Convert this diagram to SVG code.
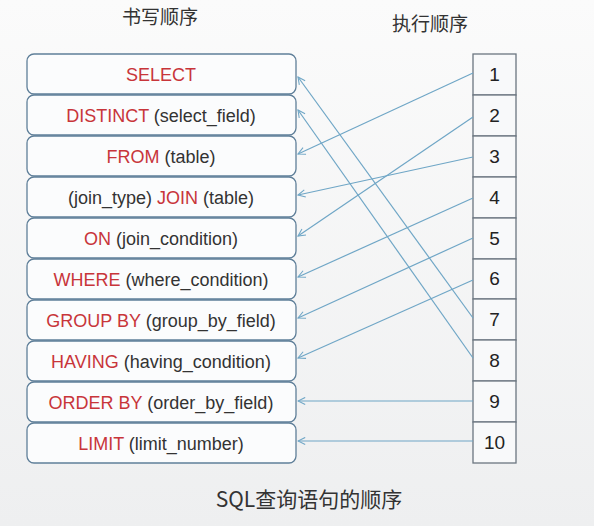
<svg xmlns="http://www.w3.org/2000/svg" width="594" height="526" viewBox="0 0 594 526">
<defs>
<linearGradient id="bg" x1="0" y1="0" x2="0" y2="1">
<stop offset="0" stop-color="#fbfbfb"/>
<stop offset="1" stop-color="#eeeff0"/>
</linearGradient>
<marker id="ah" viewBox="0 0 10 10" refX="9" refY="5" markerWidth="9" markerHeight="9" markerUnits="userSpaceOnUse" orient="auto">
<path d="M1,1 L9,5 L1,9" fill="none" stroke="#6fa6c6" stroke-width="1.2"/>
</marker>
</defs>
<style>
.box{fill:#fbfcfd;stroke:#5f7f99;stroke-width:1.3}
.cell{fill:#f8f9fa;stroke:#6b7680;stroke-width:1.3}
.t{font-family:"Liberation Sans",Arial,sans-serif;font-size:18px;fill:#333;text-anchor:middle}
.k{fill:#c8353a}
.n{font-family:"Liberation Sans",Arial,sans-serif;font-size:19px;fill:#222;text-anchor:middle}
.h{font-family:"Noto Sans CJK SC","Liberation Sans",sans-serif;font-size:19px;fill:#333;text-anchor:middle}
.cap{font-size:21px}
.c{fill:none;stroke:#6fa6c6;stroke-width:1.2;marker-end:url(#ah)}
</style>
<rect width="594" height="526" fill="url(#bg)"/>
<text class="h" x="160" y="24">书写顺序</text>
<text class="h" x="430" y="31">执行顺序</text>
<g id="w1"><rect class="box" x="27" y="54" width="269" height="40" rx="7"/><text class="t" x="161" y="80.5"><tspan class="k">SELECT</tspan></text></g>
<g id="w2"><rect class="box" x="27" y="95" width="269" height="40" rx="7"/><text class="t" x="161" y="121.5"><tspan class="k">DISTINCT</tspan> (select_field)</text></g>
<g id="w3"><rect class="box" x="27" y="136" width="269" height="40" rx="7"/><text class="t" x="161" y="162.5"><tspan class="k">FROM</tspan> (table)</text></g>
<g id="w4"><rect class="box" x="27" y="177" width="269" height="40" rx="7"/><text class="t" x="161" y="203.5">(join_type) <tspan class="k">JOIN</tspan> (table)</text></g>
<g id="w5"><rect class="box" x="27" y="218" width="269" height="40" rx="7"/><text class="t" x="161" y="244.5"><tspan class="k">ON</tspan> (join_condition)</text></g>
<g id="w6"><rect class="box" x="27" y="259" width="269" height="40" rx="7"/><text class="t" x="161" y="285.5"><tspan class="k">WHERE</tspan> (where_condition)</text></g>
<g id="w7"><rect class="box" x="27" y="300" width="269" height="40" rx="7"/><text class="t" x="161" y="326.5"><tspan class="k">GROUP BY</tspan> (group_by_field)</text></g>
<g id="w8"><rect class="box" x="27" y="341" width="269" height="40" rx="7"/><text class="t" x="161" y="367.5"><tspan class="k">HAVING</tspan> (having_condition)</text></g>
<g id="w9"><rect class="box" x="27" y="382" width="269" height="40" rx="7"/><text class="t" x="161" y="408.5"><tspan class="k">ORDER BY</tspan> (order_by_field)</text></g>
<g id="w10"><rect class="box" x="27" y="423" width="269" height="40" rx="7"/><text class="t" x="161" y="449.5"><tspan class="k">LIMIT</tspan> (limit_number)</text></g>
<g id="e1"><rect class="cell" x="473" y="54" width="43" height="41"/><text class="n" x="494.5" y="81">1</text></g>
<g id="e2"><rect class="cell" x="473" y="95" width="43" height="41"/><text class="n" x="494.5" y="122">2</text></g>
<g id="e3"><rect class="cell" x="473" y="136" width="43" height="41"/><text class="n" x="494.5" y="163">3</text></g>
<g id="e4"><rect class="cell" x="473" y="177" width="43" height="41"/><text class="n" x="494.5" y="204">4</text></g>
<g id="e5"><rect class="cell" x="473" y="218" width="43" height="41"/><text class="n" x="494.5" y="245">5</text></g>
<g id="e6"><rect class="cell" x="473" y="259" width="43" height="40"/><text class="n" x="494.5" y="285">6</text></g>
<g id="e7"><rect class="cell" x="473" y="299" width="43" height="41"/><text class="n" x="494.5" y="326">7</text></g>
<g id="e8"><rect class="cell" x="473" y="340" width="43" height="41"/><text class="n" x="494.5" y="367">8</text></g>
<g id="e9"><rect class="cell" x="473" y="381" width="43" height="41"/><text class="n" x="494.5" y="408">9</text></g>
<g id="e10"><rect class="cell" x="473" y="422" width="43" height="41"/><text class="n" x="494.5" y="449">10</text></g>
<g id="connectors">
<line class="c" x1="473" y1="73" x2="298" y2="154"/>
<line class="c" x1="473" y1="117" x2="298" y2="236"/>
<line class="c" x1="473" y1="157" x2="298" y2="195"/>
<line class="c" x1="473" y1="198" x2="298" y2="277"/>
<line class="c" x1="473" y1="238" x2="298" y2="318"/>
<line class="c" x1="473" y1="280" x2="298" y2="358"/>
<line class="c" x1="473" y1="318" x2="298" y2="77"/>
<line class="c" x1="473" y1="358" x2="298" y2="110"/>
<line class="c" x1="473" y1="401" x2="298" y2="401"/>
<line class="c" x1="473" y1="441" x2="298" y2="441"/>
</g>
<text class="h cap" x="309" y="507">SQL查询语句的顺序</text>
</svg>
